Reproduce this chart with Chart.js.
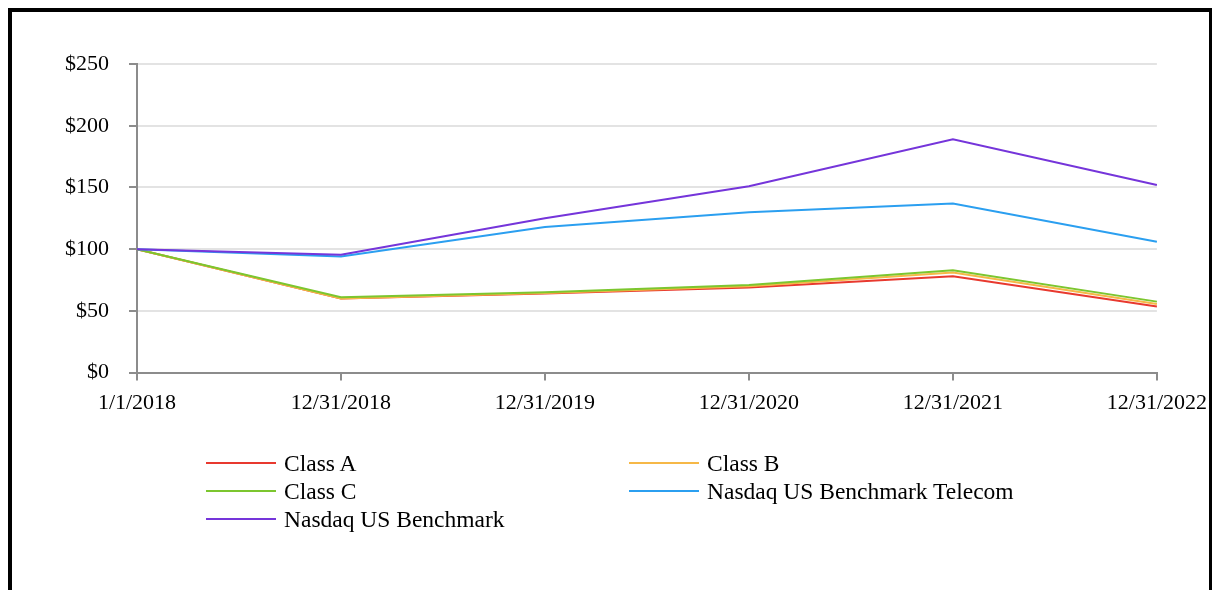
<!DOCTYPE html>
<html>
<head>
<meta charset="utf-8">
<script src="https://cdn.jsdelivr.net/npm/chart.js@4"></script>
<style>
    body { margin: 0; background: #fff; font-family: "Liberation Serif", "Times New Roman", serif; }
    #wrap { position: absolute; left: 0; top: 0; width: 1212px; height: 590px; overflow: hidden; }
    #myChart { position: absolute; left: 0; top: 0; }
    #frame {
        position: absolute; left: 8px; top: 8px; width: 1197px; height: 700px;
        border-top: 4px solid #000; border-left: 4px solid #000; border-right: 3px solid #000;
        pointer-events: none;
    }
    #legend { position: absolute; left: 0; top: 0; font-size: 23.5px; color: #000; }
    .item { position: absolute; height: 28px; line-height: 28px; white-space: nowrap; }
    .item span.ln { position: absolute; left: 0; top: 13px; width: 70px; height: 2px; }
    .item span.tx { position: absolute; left: 78px; top: 0; }
</style>
</head>
<body>
<div id="wrap">
    <canvas id="myChart" width="1216" height="590"></canvas>
    <div id="legend"></div>
    <div id="frame"></div>
</div>
<script>
const labels = ['1/1/2018', '12/31/2018', '12/31/2019', '12/31/2020', '12/31/2021', '12/31/2022'];
const seriesNames = ['Class A', 'Class B', 'Class C', 'Nasdaq US Benchmark Telecom', 'Nasdaq US Benchmark'];
const classA = [100, 60, 64, 69, 78, 53.5];
const classB = [100, 60, 64.5, 70, 81, 55.5];
const classC = [100, 61, 65, 71, 83, 57.5];
const telecom = [100, 94, 118, 130, 137, 106];
const benchmark = [100, 95.5, 125, 151, 189, 152];
const yTicks = [0, 50, 100, 150, 200, 250];

const colors = ['#e8392f', '#f6b847', '#7cc62f', '#2b9ff0', '#7535da'];
const allData = [classA, classB, classC, telecom, benchmark];
// draw order: purple on top, then blue, green, orange, red
const drawOrder = [5, 4, 3, 2, 1];

// legend cells (column, row) like the original two-column layout
const legendPos = [[206, 449], [629, 449], [206, 477], [629, 477], [206, 505]];

function buildLegend() {
    const lg = document.getElementById('legend');
    seriesNames.forEach((name, i) => {
        const d = document.createElement('div');
        d.className = 'item';
        d.style.left = legendPos[i][0] + 'px';
        d.style.top = legendPos[i][1] + 'px';
        d.innerHTML = '<span class="ln" style="background:' + colors[i] + '"></span><span class="tx">' + name + '</span>';
        lg.appendChild(d);
    });
}

function createChart() {
    const ctx = document.getElementById('myChart').getContext('2d');
    const tickFont = { family: '"Liberation Serif", "Times New Roman", serif', size: 22 };
    new Chart(ctx, {
        type: 'line',
        data: {
            labels: labels,
            datasets: allData.map((d, i) => ({
                label: seriesNames[i],
                data: d,
                borderColor: colors[i],
                backgroundColor: colors[i],
                borderWidth: 2,
                pointRadius: 0,
                tension: 0,
                order: drawOrder[i]
            }))
        },
        options: {
            responsive: false,
            animation: false,
            layout: { padding: { left: 45, right: 44, top: 64, bottom: 165 } },
            plugins: { legend: { display: false }, tooltip: { enabled: false } },
            scales: {
                x: {
                    offset: false,
                    border: { color: '#8c8c8c', width: 2 },
                    grid: { drawOnChartArea: false, color: '#8c8c8c', tickColor: '#8c8c8c', tickLength: 8, lineWidth: 2 },
                    ticks: { color: '#000', font: tickFont, padding: 9, maxRotation: 0, autoSkip: false }
                },
                y: {
                    min: 0,
                    max: 250,
                    afterBuildTicks: (axis) => { axis.ticks = yTicks.map(v => ({ value: v })); },
                    border: { color: '#8c8c8c', width: 2 },
                    grid: { color: '#e3e3e3', tickColor: '#8c8c8c', tickLength: 8, lineWidth: 2 },
                    ticks: { color: '#000', font: tickFont, padding: 20, callback: v => '$' + v }
                }
            }
        }
    });
}

document.addEventListener('DOMContentLoaded', function () {
    buildLegend();
    createChart();
});
</script>
</body>
</html>
